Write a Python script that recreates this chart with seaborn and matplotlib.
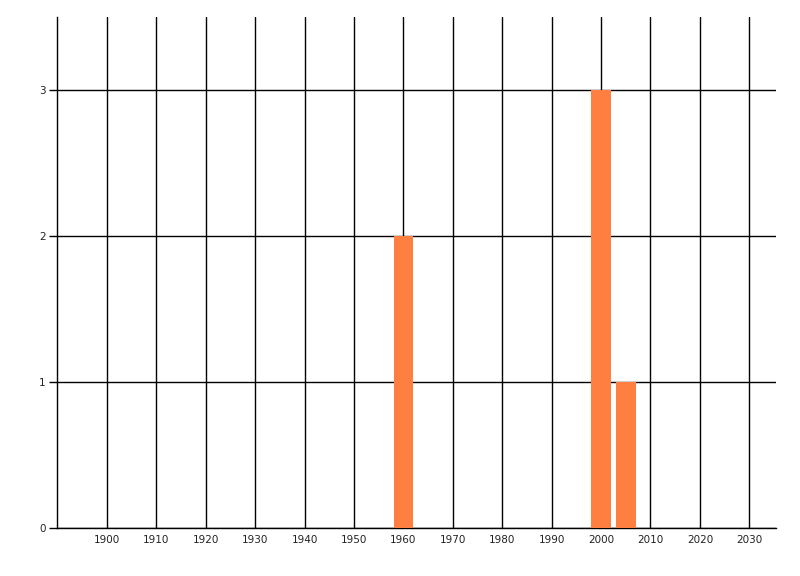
import matplotlib
matplotlib.use("Agg")
import matplotlib.pyplot as plt
import seaborn as sns

# --- datos ---
years = [1960, 2000, 2005]
counts = [2, 3, 1]
x_ticks = list(range(1900, 2031, 10))
y_ticks = [0, 1, 2, 3]

sns.set_style("white")
plt.rcParams["font.family"] = ["DejaVu Sans"]

fig = plt.figure(figsize=(8, 5.76), dpi=100)
ax = fig.add_axes([57 / 800, 48 / 576, (776 - 57) / 800, (528 - 17) / 576])

sns.barplot(x=years, y=counts, native_scale=True, width=0.8,
            color="#FF7F40", saturation=1, linewidth=0, edgecolor="none",
            ax=ax, zorder=3)

ax.set_xlim(1889.9, 2035.4)
ax.set_ylim(0, 3.5)
ax.set_xticks(x_ticks)
ax.set_yticks(y_ticks)
ax.set_xticklabels([str(t) for t in x_ticks], fontsize=7.5, color="#222222")
ax.set_yticklabels([str(t) for t in y_ticks], fontsize=7.5, color="#222222")

ax.grid(True, color="black", linewidth=1.0, zorder=0)
ax.set_axisbelow(True)
ax.tick_params(axis="x", length=0, pad=5)
ax.tick_params(axis="y", length=6, width=1.0, color="black", pad=2, left=True)

for side in ["top", "right"]:
    ax.spines[side].set_visible(False)
for side in ["left", "bottom"]:
    ax.spines[side].set_color("black")
    ax.spines[side].set_linewidth(1.0)

ax.set_xlabel("")
ax.set_ylabel("")

fig.savefig("out.png", dpi=100)
